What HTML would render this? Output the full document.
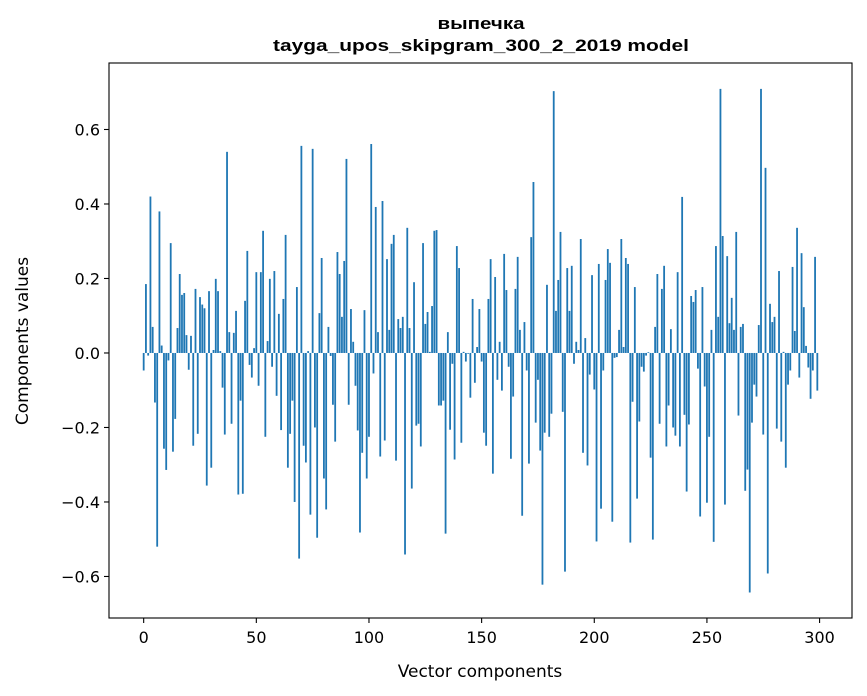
<!DOCTYPE html>
<html><head><meta charset="utf-8"><style>
html,body{margin:0;padding:0;background:#fff;}
svg{display:block;}
text{font-family:"DejaVu Sans","Liberation Sans",sans-serif;fill:#000;}
</style></head><body>
<svg id="chart" width="867" height="696" viewBox="0 0 867 696" xmlns="http://www.w3.org/2000/svg">
<rect width="867" height="696" fill="#fff"/>
<text x="481" y="29" text-anchor="middle" font-size="17" font-weight="bold" textLength="87" lengthAdjust="spacingAndGlyphs" style="font-family:'Liberation Sans','DejaVu Sans',sans-serif">выпечка</text>
<text x="481" y="51" text-anchor="middle" font-size="17" font-weight="bold" textLength="416" lengthAdjust="spacingAndGlyphs" style="font-family:'Liberation Sans','DejaVu Sans',sans-serif">tayga_upos_skipgram_300_2_2019 model</text>
<g id="bars"></g>
<g id="xticks"></g>
<g id="yticks"></g>
<rect x="109" y="63" width="743" height="555" fill="none" stroke="#000" stroke-width="1.1"/>
<text x="480" y="677" text-anchor="middle" font-size="17">Vector components</text>
<text transform="translate(28,341) rotate(-90)" text-anchor="middle" font-size="17">Components values</text>
</svg>
<script>
const values = [
-0.047,0.185,-0.007,0.42,0.07,-0.133,-0.52,0.38,0.02,-0.257,
-0.314,-0.02,0.295,-0.265,-0.177,0.067,0.212,0.156,0.161,0.048,
-0.045,0.046,-0.249,0.172,-0.217,0.15,0.13,0.12,-0.356,0.166,
-0.308,0.008,0.199,0.166,0.005,-0.093,-0.219,0.54,0.056,-0.19,
0.054,0.113,-0.38,-0.128,-0.378,0.14,0.274,-0.032,-0.066,0.013,
0.217,-0.088,0.217,0.328,-0.225,0.032,0.199,-0.037,0.22,-0.115,
0.105,-0.207,0.145,0.317,-0.308,-0.217,-0.128,-0.4,0.177,-0.552,
0.556,-0.249,-0.294,0.005,-0.434,0.548,-0.2,-0.496,0.107,0.255,
-0.337,-0.42,0.07,-0.008,-0.139,-0.238,0.271,0.212,0.097,0.247,
0.521,-0.139,0.118,0.03,-0.088,-0.208,-0.482,-0.268,0.115,-0.337,
-0.225,0.561,-0.055,0.392,0.056,-0.278,0.408,-0.235,0.252,0.062,
0.293,0.317,-0.289,0.091,0.067,0.097,-0.541,0.336,0.067,-0.364,
0.19,-0.195,-0.19,-0.251,0.295,0.078,0.11,0.003,0.126,0.328,
0.33,-0.141,-0.141,-0.128,-0.485,0.056,-0.206,-0.029,-0.286,0.287,
0.228,-0.241,0.003,-0.023,-0.002,-0.12,0.145,-0.08,0.016,0.118,
-0.023,-0.214,-0.249,0.145,0.252,-0.324,0.204,-0.072,0.03,-0.101,
0.266,0.169,-0.037,-0.284,-0.117,0.172,0.258,0.062,-0.437,0.083,
-0.047,-0.297,0.311,0.459,-0.187,-0.072,-0.262,-0.622,-0.214,0.183,
-0.225,-0.163,0.703,0.113,0.196,0.325,-0.158,-0.587,0.228,0.113,
0.234,-0.029,0.03,0.008,0.306,-0.268,0.04,-0.302,-0.058,0.209,
-0.098,-0.506,0.239,-0.418,-0.047,0.196,0.279,0.242,-0.453,-0.013,
-0.011,0.062,0.306,0.016,0.255,0.239,-0.509,-0.131,0.177,-0.391,
-0.184,-0.037,-0.05,-0.007,0.002,-0.281,-0.501,0.07,0.212,-0.19,
0.172,0.234,-0.251,-0.141,0.064,-0.2,-0.222,0.217,-0.251,0.419,
-0.166,-0.372,-0.192,0.153,0.137,0.169,-0.042,-0.439,0.177,-0.09,
-0.402,-0.225,0.062,-0.507,0.287,0.097,0.709,0.314,-0.407,0.26,
0.08,0.148,0.062,0.325,-0.168,0.07,0.078,-0.37,-0.313,-0.643,
-0.187,-0.085,-0.117,0.075,0.709,-0.219,0.497,-0.592,0.132,0.083,
0.097,-0.203,0.22,-0.238,0.003,-0.308,-0.085,-0.047,0.231,0.059,
0.336,-0.066,0.268,0.123,0.019,-0.039,-0.123,-0.047,0.258,-0.101
];
const xTickValues = [0,50,100,150,200,250,300];
const yTickValues = [-0.6,-0.4,-0.2,0.0,0.2,0.4,0.6];

const NS = "http://www.w3.org/2000/svg";
const L=109,R=852,T=63,B=618;
const xmin=-15.39,xmax=314.39,ymin=-0.7115,ymax=0.7785;
function xs(v){return L+(v-xmin)/(xmax-xmin)*(R-L);}
function ys(v){return B-(v-ymin)/(ymax-ymin)*(B-T);}
function mk(tag,attrs){const e=document.createElementNS(NS,tag);for(const k in attrs)e.setAttribute(k,attrs[k]);return e;}

const gb=document.getElementById('bars');
values.forEach((v,i)=>{
  const x0=xs(i-0.4),x1=xs(i+0.4);
  const y0=ys(Math.max(v,0)),y1=ys(Math.min(v,0));
  const r=mk('rect',{x:x0,y:y0,width:x1-x0,height:Math.max(y1-y0,0.3),fill:'#1f77b4'});
  
  
  gb.appendChild(r);
});

const gx=document.getElementById('xticks');
xTickValues.forEach(t=>{
  const x=xs(t);
  const ln=mk('line',{x1:x,x2:x,y1:B,y2:B+5,stroke:'#000','stroke-width':1.1});
  
  
  gx.appendChild(ln);
  const tx=mk('text',{x:x,y:B+25,'text-anchor':'middle','font-size':'16'});
  
  
  tx.textContent=String(t);
  gx.appendChild(tx);
});

const gy=document.getElementById('yticks');
yTickValues.forEach(t=>{
  const y=ys(t);
  const ln=mk('line',{x1:L-5,x2:L,y1:y,y2:y,stroke:'#000','stroke-width':1.1});
  
  
  gy.appendChild(ln);
  const tx=mk('text',{x:L-9,y:y+6,'text-anchor':'end','font-size':'16'});
  
  
  tx.textContent=(t<0?'\u2212':'')+Math.abs(t).toFixed(1);
  gy.appendChild(tx);
});
</script>
</body></html>
